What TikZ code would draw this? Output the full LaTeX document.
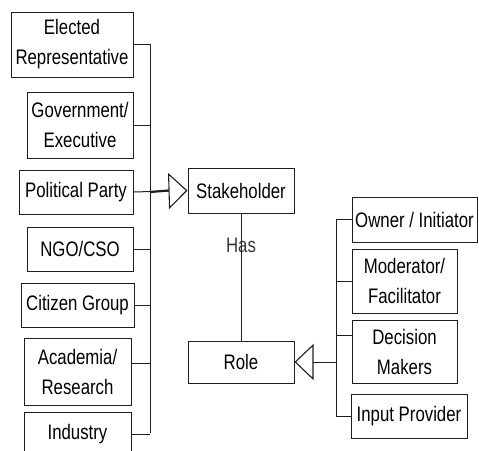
\documentclass[tikz,border=0pt]{standalone}
\usepackage{fontspec}
\setmainfont{Liberation Sans}[FakeStretch=0.8]
\usetikzlibrary{arrows.meta}
\definecolor{ink}{HTML}{1E1E1E}
\definecolor{labelgray}{HTML}{383838}
\tikzset{
  box/.style={draw=ink, line width=1pt, inner sep=0pt, align=center,
              font=\fontsize{21}{30}\selectfont, text=black},
  link/.style={draw=ink, line width=1pt},
  gen/.style={link, -{Triangle[open, length=19pt, width=36pt, line width=1.1pt]}},
}
\begin{document}
\begin{tikzpicture}[x=1pt, y=-1pt]
  \useasboundingbox (0,0) rectangle (479,450);
  \clip (0,0) rectangle (479,450);

  % stakeholder kinds (left column)
  \node[box, minimum width=122pt, minimum height=65pt] (elected)  at (72,44.5)  {Elected\\Representative};
  \node[box, minimum width=106pt, minimum height=66pt] (gov)      at (80,125)   {Government/\\Executive};
  \node[box, minimum width=114pt, minimum height=44pt] (party)    at (76,192)   {Political Party};
  \node[box, minimum width=106pt, minimum height=44pt] (ngo)      at (80,249)   {NGO/CSO};
  \node[box, minimum width=113pt, minimum height=44pt] (citizen)  at (77.5,305) {Citizen Group};
  \node[box, minimum width=107pt, minimum height=67pt] (academia) at (77.5,371.5) {Academia/\\Research};
  \node[box, minimum width=107pt, minimum height=44pt] (industry) at (77.5,434) {Industry};

  % central classes
  \node[box, minimum width=106pt, minimum height=45pt] (stake) at (241,190.5) {Stakeholder};
  \node[box, minimum width=106pt, minimum height=42pt] (role)  at (241,362)   {Role};

  % role kinds (right column)
  \node[box, minimum width=125pt, minimum height=45pt] (owner)    at (414.5,219.5) {Owner / Initiator};
  \node[box, minimum width=105pt, minimum height=64pt] (moder)    at (404.5,281)   {Moderator/\\Facilitator};
  \node[box, minimum width=105pt, minimum height=63pt] (decision) at (404.5,351.5) {Decision\\Makers};
  \node[box, minimum width=116pt, minimum height=44pt] (input)    at (409,416)     {Input Provider};

  % left bus
  \coordinate (lt) at (150,44);
  \coordinate (lb) at (150,433);
  \draw[link] (lt) -- (lb);
  \foreach \n in {elected, gov, ngo, citizen, industry}
    \draw[link] (\n.east) -- (\n.east -| lt);
  \draw[link] ([yshift=8.5pt]academia.east) -- ([yshift=8.5pt]academia.east -| lt);

  % generalisation into Stakeholder
  \draw[ink, line width=2.2pt] (party.east -| lt) -- ([xshift=-19pt]stake.west);
  \draw[gen] (party.east) -- (stake.west);

  % association
  \draw[link] (stake.south) -- node[pos=0.25, text=labelgray, font=\fontsize{21}{24}\selectfont] (has) {Has} (role.north);

  % right bus
  \coordinate (rt) at (336,220);
  \coordinate (rb) at (336,416);
  \draw[link] (rt) -- (rb);
  \foreach \n in {owner, moder, input}
    \draw[link] (\n.west) -- (\n.west -| rt);
  \draw[link] ([yshift=16.5pt]decision.west) -- ([yshift=16.5pt]decision.west -| rt);

  % generalisation into Role
  \coordinate (rj) at (role.east -| rt);
  \draw[gen] (rj) -- (role.east);
\end{tikzpicture}
\end{document}
